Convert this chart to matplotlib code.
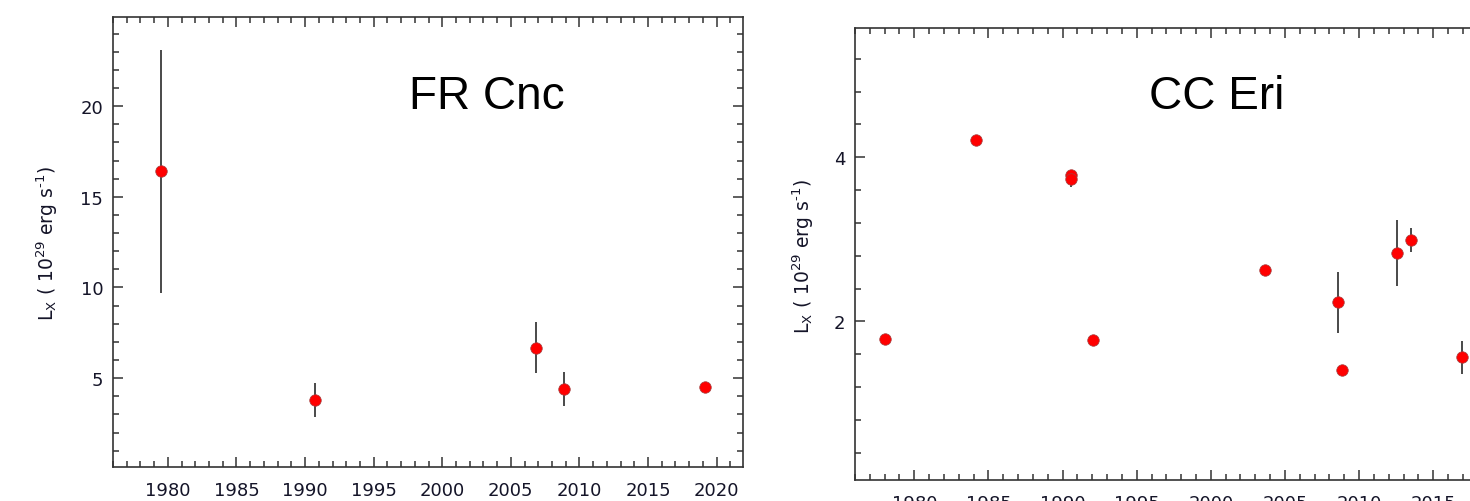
import matplotlib
matplotlib.use("Agg")
import matplotlib.pyplot as plt
from matplotlib.ticker import MultipleLocator

# FR Cnc
fr_year = [1979.47, 1990.7, 2006.84, 2008.84, 2019.17]
fr_lx = [16.4, 3.79, 6.67, 4.39, 4.49]
fr_err = [6.68, 0.93, 1.40, 0.93, 0.15]

# CC Eri
cc_year = [1978.02, 1984.14, 1990.55, 1990.57, 1992.07, 2003.63, 2008.55,
           2008.82, 2012.55, 2013.49, 2016.95]
cc_lx = [1.784, 4.21, 3.78, 3.73, 1.772, 2.626, 2.232, 1.406, 2.833, 2.995, 1.561]
cc_err = [0.03, 0.03, 0.04, 0.09, 0.03, 0.03, 0.37, 0.06, 0.40, 0.145, 0.20]

x_ticks = [1980, 1985, 1990, 1995, 2000, 2005, 2010, 2015, 2020]
fr_yticks = [5, 10, 15, 20]
cc_yticks = [2, 4]

W, H = 1470, 502
fig = plt.figure(figsize=(W / 100, H / 100), dpi=100)

spine_c = "#333333"
tick_c = "#141428"
ylabel = "L$_{\\rm X}$ ( 10$^{29}$ erg s$^{\\rm \u2010 1}$)"


def style(ax, yminor):
    for s in ax.spines.values():
        s.set_color(spine_c)
        s.set_linewidth(1.2)
    ax.xaxis.set_minor_locator(MultipleLocator(1))
    ax.yaxis.set_minor_locator(MultipleLocator(yminor))
    ax.tick_params(which="both", direction="in", top=True, right=True,
                   color=spine_c, width=1.1)
    ax.tick_params(which="major", length=7)
    ax.tick_params(which="minor", length=4.5)
    ax.tick_params(axis="x", which="major", pad=10, labelsize=13, labelcolor=tick_c)
    ax.tick_params(axis="y", which="major", pad=7, labelsize=13, labelcolor=tick_c)


def draw(ax, x, y, e):
    ax.errorbar(x, y, yerr=e, fmt="o", ms=8.3, mfc="#ff0000", mec="#a04040",
                mew=0.5, ecolor="#2a2a2a", elinewidth=1.2, capsize=0, zorder=3)


# Left panel
ax1 = fig.add_axes([113 / W, 1 - 468 / H, (742.7 - 113) / W, (468 - 18.3) / H])
draw(ax1, fr_year, fr_lx, fr_err)
ax1.set_xlim(1976, 2021.9)
ax1.set_ylim(0.1, 24.9)
ax1.set_xticks(x_ticks)
ax1.set_yticks(fr_yticks)
style(ax1, 1)
ax1.set_ylabel(ylabel, fontsize=13.5, color=tick_c)
ax1.yaxis.set_label_coords(-0.084, 0.498)
ax1.text(486.7, H - 97.5, "FR Cnc", transform=None, fontsize=33,
         family="Liberation Sans", ha="center", va="center", color="black")

# Right panel (extends past the figure edge, as in the cropped reference)
ax2 = fig.add_axes([855 / W, 1 - 481 / H, 682 / W, (481 - 29.3) / H])
draw(ax2, cc_year, cc_lx, cc_err)
ax2.set_xlim(1976, 2022)
ax2.set_ylim(0.065, 5.573)
ax2.set_xticks(x_ticks)
ax2.set_yticks(cc_yticks)
style(ax2, 0.4)
ax2.set_ylabel(ylabel, fontsize=13.5, color=tick_c)
ax2.yaxis.set_label_coords(-0.057, 0.496)
ax2.text(1216.7, H - 97.5, "CC Eri", transform=None, fontsize=33,
         family="Liberation Sans", ha="center", va="center", color="black")

fig.savefig("out.png", dpi=100)
